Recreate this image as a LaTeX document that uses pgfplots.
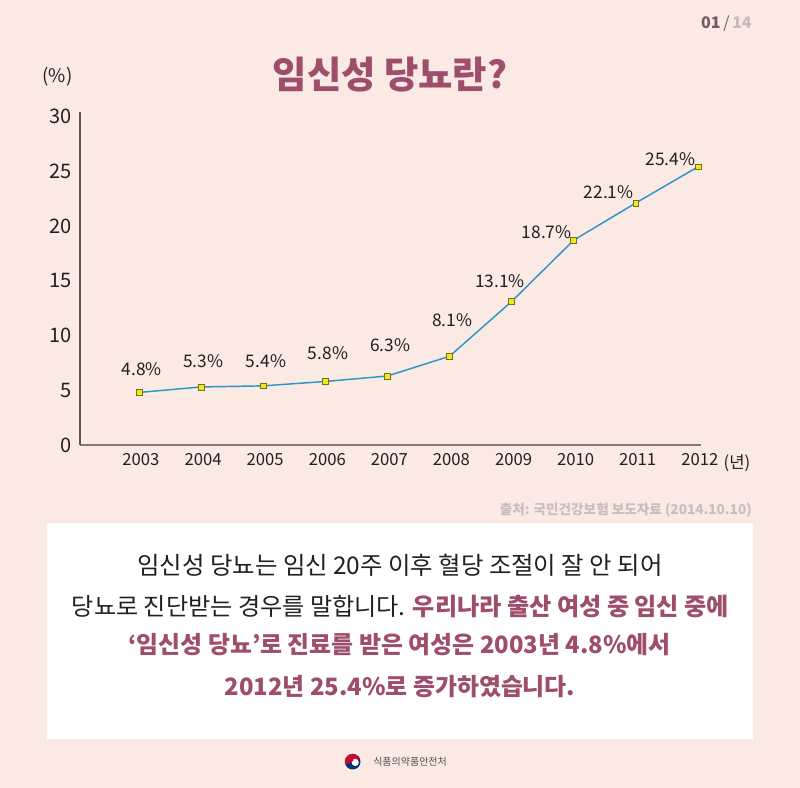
\documentclass[border=0pt]{standalone}
\usepackage{fontspec}
\usepackage{pgfplots}
\usepackage{pgfplotstable}
\pgfplotsset{compat=1.18}
\setmainfont{Noto Sans CJK KR}
\definecolor{bg}{RGB}{251,233,227}
\definecolor{rose}{RGB}{158,78,108}
\definecolor{linec}{RGB}{46,150,200}
\definecolor{markfill}{RGB}{240,232,30}
\definecolor{markdraw}{RGB}{120,110,20}
\definecolor{txt}{RGB}{35,31,32}
\definecolor{xaxc}{RGB}{130,120,115}
\definecolor{yaxc}{RGB}{90,85,85}
\definecolor{srcc}{RGB}{200,190,192}
\definecolor{pnum}{RGB}{111,91,105}
\definecolor{pnumb}{RGB}{200,184,192}
\definecolor{logoblue}{RGB}{0,52,120}
\definecolor{logored}{RGB}{198,12,48}
\definecolor{logotxt}{RGB}{80,80,80}

\pgfplotstableread{
x y dx dy
2003 4.8 2.0 17.5
2004 5.3 1.7 19.7
2005 5.4 2.1 18.8
2006 5.8 2.0 21.3
2007 6.3 2.0 23.0
2008 8.1 2.0 27.2
2009 13.1 -8.8 15.0
2010 18.7 -20.3 5.7
2011 22.1 -20.4 8.0
2012 25.4 -20.5 5.8
}\datatable

\begin{document}
\begin{tikzpicture}[x=0.75pt,y=0.75pt]
\fill[bg] (0,0) rectangle (800,788);
\useasboundingbox (0,0) rectangle (800,788);
% page number
\node[anchor=east, inner sep=0, font=\fontsize{12}{14}\selectfont\bfseries] at (752,764)
  {\textcolor{pnum}{01}\kern2pt\textcolor{pnum}{\mdseries/}\kern2pt\textcolor{pnumb}{14}};
% title
\node[font=\fontsize{28}{32}\selectfont\bfseries, text=rose] at (390,713) {임신성 당뇨란?};
\node[font=\fontsize{14}{16}\selectfont, text=txt] at (57.5,711) {(\%)};

\begin{axis}[
  at={(60pt,257.25pt)}, anchor=south west,
  scale only axis, width=465.75pt, height=250pt,
  xmin=2002.05, xmax=2012.05, ymin=0, ymax=30.44,
  axis lines=left, axis line style={-},
  x axis line style={draw=xaxc, line width=1.6pt},
  y axis line style={draw=yaxc, line width=0.8pt},
  xtick={2003,...,2012}, ytick={0,5,...,30},
  major tick length=0pt, tick style={draw=none},
  /pgf/number format/assume math mode=true,
  /pgf/number format/1000 sep={},
  yticklabel style={font=\fontsize{15}{17}\selectfont, text=txt, xshift=-2.5pt},
  xticklabel style={font=\fontsize{12.5}{14}\selectfont, text=txt, xshift=1.5pt, yshift=-3pt},
  clip=false,
]
\addplot[linec, line width=1.1pt, mark=square*, mark size=2.2pt,
  mark options={fill=markfill, draw=markdraw, line width=0.5pt},
  point meta=y,
  visualization depends on={\thisrow{dx} \as \dx},
  visualization depends on={\thisrow{dy} \as \dy},
  nodes near coords={\pgfmathprintnumber[fixed,fixed zerofill,precision=1,assume math mode=true]{\pgfplotspointmeta}\%},
  nodes near coords style={anchor=center, font=\fontsize{13}{15}\selectfont, text=txt, xshift=\dx pt, yshift=\dy pt},
] table[x=x,y=y] {\datatable};
\end{axis}
\node[font=\fontsize{12.5}{14}\selectfont, text=txt] at (737,325) {(년)};

% source
\node[anchor=east, inner sep=0, font=\fontsize{10.2}{12}\selectfont\bfseries, text=srcc] at (752,278)
  {출처: 국민건강보험 보도자료 (2014.10.10)};

% text box
\fill[white] (47,48.7) rectangle (753,264.7);
\node[font=\fontsize{18.3}{21}\selectfont, text=txt] at (400,223)
  {임신성 당뇨는 임신 20주 이후 혈당 조절이 잘 안 되어};
\node[font=\fontsize{18.1}{21}\selectfont, text=txt] at (400.5,181.3)
  {당뇨로 진단받는 경우를 말합니다. \textbf{\textcolor{rose}{우리나라 출산 여성 중 임신 중에}}};
\node[font=\fontsize{17.9}{21}\selectfont\bfseries, text=rose] at (399.5,143)
  {‘임신성 당뇨’로 진료를 받은 여성은 2003년 4.8\%에서};
\node[font=\fontsize{17.9}{21}\selectfont\bfseries, text=rose] at (400,101.3)
  {2012년 25.4\%로 증가하였습니다.};

% logo
\fill[logoblue] (352.7,26.3) circle (7.8);
\fill[logored] (352.7,26.3) ++(200:7.8) arc (200:20:7.8) -- cycle;
\fill[white] (355.2,25.6) circle (3.6);
\fill[logored] (351.5,27.6) circle (1.9);
\node[anchor=west, inner sep=0, font=\fontsize{7.5}{9}\selectfont, text=logotxt] at (373,26.3) {식품의약품안전처};
\end{tikzpicture}
\end{document}
